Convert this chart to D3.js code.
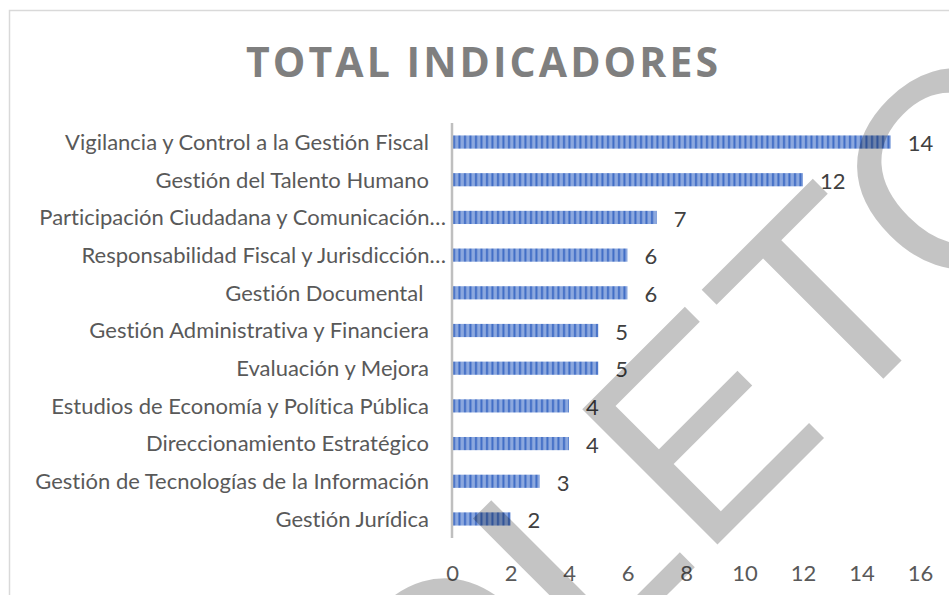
<!DOCTYPE html>
<html>
<head>
<meta charset="utf-8">
<script src="https://cdn.jsdelivr.net/npm/d3@7"></script>
<style>
  body { margin: 0; background: #fff; }
  svg { display: block; }
  text { font-variant-ligatures: none; font-feature-settings: "liga" 0, "clig" 0; }
</style>
</head>
<body>
<div id="chart"></div>
<script>
// data (top to bottom)
var categories = [
  "Vigilancia y Control a la Gestión Fiscal",
  "Gestión del Talento Humano",
  "Participación Ciudadana y Comunicación…",
  "Responsabilidad Fiscal y Jurisdicción…",
  "Gestión Documental ",
  "Gestión Administrativa y Financiera",
  "Evaluación y Mejora",
  "Estudios de Economía y Política Pública",
  "Direccionamiento Estratégico",
  "Gestión de Tecnologías de la Información",
  "Gestión Jurídica"
];
// bar lengths as drawn (first bar reaches 15 although it is labelled 14)
var barValues = [15, 12, 7, 6, 6, 5, 5, 4, 4, 3, 2];
var valueLabels = ["14", "12", "7", "6", "6", "5", "5", "4", "4", "3", "2"];
var xTicks = [0, 2, 4, 6, 8, 10, 12, 14, 16];

var W = 949, H = 595;
var plot = {left: 452, right: 920, top: 123, bottom: 538};

var svg = d3.select("#chart").append("svg")
    .attr("width", W)
    .attr("height", H);

// chart frame
svg.append("rect")
    .attr("x", 9.5).attr("y", 10.5)
    .attr("width", 1200).attr("height", 1200)
    .attr("fill", "#fff")
    .attr("stroke", "#d9d9d9")
    .attr("stroke-width", 1.5);

// striped fill like the excel pattern
var defs = svg.append("defs");
var pat = defs.append("pattern")
    .attr("id", "stripes")
    .attr("patternUnits", "userSpaceOnUse")
    .attr("width", 5.5).attr("height", 20);
pat.append("rect").attr("width", 5.5).attr("height", 20).attr("fill", "#8ca8de");
pat.append("rect").attr("x", 2).attr("width", 2).attr("height", 20).attr("fill", "#3f6cc5");

var labelFont = "Lato, 'Open Sans', sans-serif";

// fit label font size so the longest full label spans like in the picture
var probe = svg.append("text")
    .attr("font-family", labelFont)
    .attr("font-size", 100)
    .text(categories[0]);
var fs = 100 * 364 / probe.node().getComputedTextLength();
probe.remove();

// title
svg.append("text")
    .attr("x", 246).attr("y", 77)
    .attr("textLength", 472)
    .attr("lengthAdjust", "spacing")
    .attr("font-family", "'Open Sans', sans-serif")
    .attr("font-weight", "bold")
    .attr("font-size", 41)
    .attr("fill", "#7f7f7f")
    .text("TOTAL INDICADORES");

var x = d3.scaleLinear()
    .domain([0, 16])
    .range([plot.left, plot.right]);

var y = d3.scaleBand()
    .domain(categories)
    .range([plot.top, plot.bottom])
    .paddingInner(0.65)
    .paddingOuter(0.33);

// bars
svg.selectAll("rect.bar")
    .data(categories)
    .enter()
    .append("rect")
      .attr("class", "bar")
      .attr("x", x(0))
      .attr("y", function(d){ return y(d); })
      .attr("width", function(d, i){ return x(barValues[i]) - x(0); })
      .attr("height", y.bandwidth())
      .attr("fill", "url(#stripes)");

// vertical axis line
svg.append("line")
    .attr("x1", plot.left).attr("x2", plot.left)
    .attr("y1", plot.top).attr("y2", plot.bottom)
    .attr("stroke", "#bfbfbf")
    .attr("stroke-width", 2.5);

// category labels
svg.selectAll("text.cat")
    .data(categories)
    .enter()
    .append("text")
      .attr("class", "cat")
      .attr("x", function(d){ return /…$/.test(d) ? 446 : 429; })
      .attr("y", function(d){ return y(d) + y.bandwidth() / 2 + fs * 0.36; })
      .attr("text-anchor", "end")
      .attr("font-family", labelFont)
      .attr("font-size", fs)
      .attr("fill", "#595959")
      .style("white-space", "pre")
      .text(function(d){ return d; });

// data labels
svg.selectAll("text.val")
    .data(categories)
    .enter()
    .append("text")
      .attr("class", "val")
      .attr("x", function(d, i){ return x(barValues[i]) + 17; })
      .attr("y", function(d){ return y(d) + y.bandwidth() / 2 + fs * 0.42; })
      .attr("font-family", labelFont)
      .attr("font-size", fs)
      .attr("fill", "#404040")
      .text(function(d, i){ return valueLabels[i]; });

// x axis tick labels, no line, no ticks
var xAxis = svg.append("g")
    .attr("transform", "translate(0," + 559 + ")")
    .call(d3.axisBottom(x).tickValues(xTicks).tickSize(0).tickPadding(0));
xAxis.select(".domain").remove();
xAxis.selectAll("text")
    .attr("dy", "1em")
    .attr("font-family", labelFont)
    .attr("font-size", fs)
    .attr("fill", "#595959");

// watermark across the page
svg.append("text")
    .attr("transform", "translate(24,1238) rotate(-45)")
    .attr("font-family", "'Liberation Sans', Arial, sans-serif")
    .attr("font-size", 278)
    .attr("fill", "#000")
    .attr("fill-opacity", 0.23)
    .text("OBSOLETO");
</script>
</body>
</html>
